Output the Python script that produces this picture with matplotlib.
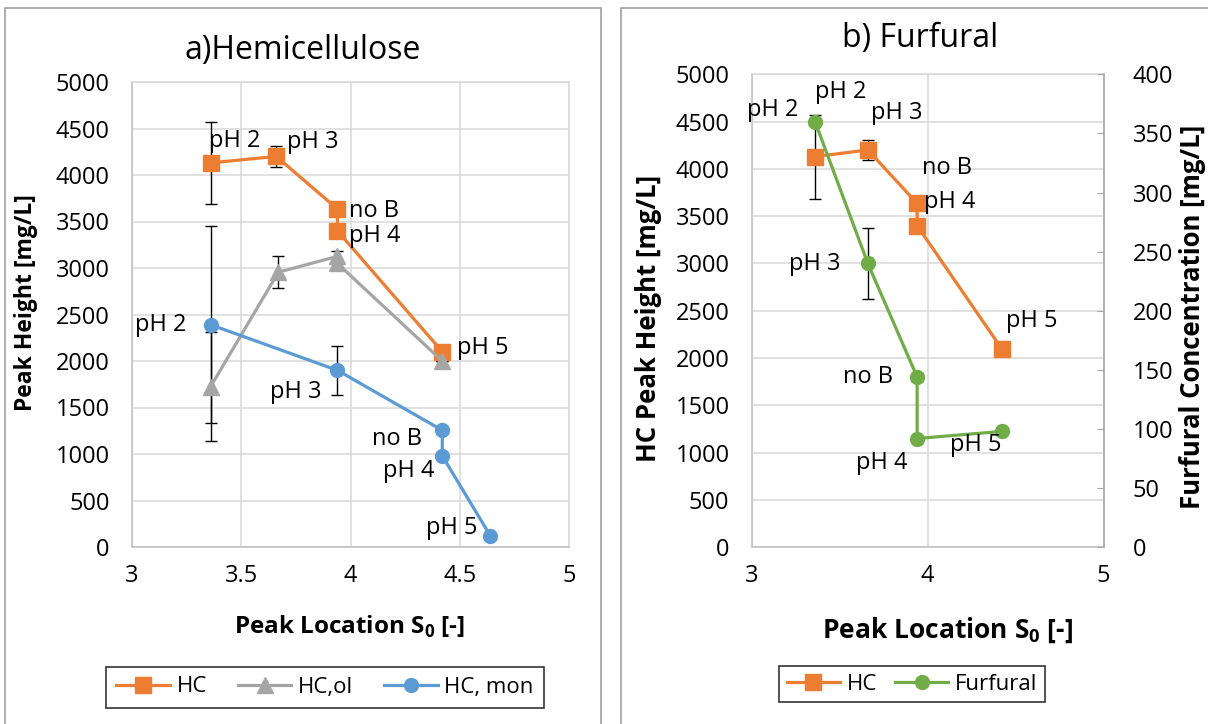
import matplotlib
matplotlib.use("Agg")
import matplotlib.pyplot as plt
from matplotlib.patches import Rectangle

plt.rcParams['font.family'] = ['Open Sans', 'DejaVu Sans']
plt.rcParams['mathtext.fontset'] = 'custom'
plt.rcParams['mathtext.rm'] = 'Open Sans'
plt.rcParams['mathtext.bf'] = 'Open Sans:bold'

# data
labels = ['pH 2', 'pH 3', 'no B', 'pH 4', 'pH 5']

hc_x = [3.36, 3.66, 3.94, 3.94, 4.42]
hc_y = [4130, 4200, 3635, 3400, 2100]
hc_err = [445, 110, 0, 0, 0]

ol_x = [3.36, 3.67, 3.94, 3.94, 4.42]
ol_y = [1725, 2955, 3125, 3050, 2000]
ol_err = [590, 170, 60, 0, 0]

mon_x = [3.36, 3.94, 4.42, 4.42, 4.64]
mon_y = [2390, 1900, 1255, 980, 120]
mon_err = [1060, 265, 0, 0, 0]

fur_x = [3.36, 3.66, 3.94, 3.94, 4.42]
fur_y = [360, 240, 144, 92, 98]
fur_err = [0, 30, 3, 0, 0]

ORANGE = '#ED7D31'
GRAY = '#A5A5A5'
BLUE = '#5B9BD5'
GREEN = '#70AD47'
GRID = '#d9d9d9'

W, H = 1208, 724
fig = plt.figure(figsize=(W / 100, H / 100), dpi=100)


def fx(px):
    return px / W


def fy(py):
    return 1 - py / H


# chart area borders
fig.patches.append(Rectangle((fx(5), fy(740)), fx(596), (740 - 8) / H, transform=fig.transFigure,
                             fill=False, edgecolor='#a0a0a0', linewidth=1.2))
fig.patches.append(Rectangle((fx(621), fy(740)), fx(700), (740 - 8) / H, transform=fig.transFigure,
                             fill=False, edgecolor='#a0a0a0', linewidth=1.2))


def style_axes(ax, xticks):
    ax.set_xlim(3, 5)
    ax.set_ylim(0, 5000)
    ax.set_xticks(xticks)
    ax.set_yticks(range(0, 5001, 500))
    ax.set_xticklabels([('%g' % t) for t in xticks])
    ax.grid(True, color=GRID, linewidth=1.1)
    ax.set_axisbelow(True)
    for s in ['top', 'right']:
        ax.spines[s].set_color(GRID)
        ax.spines[s].set_linewidth(1.1)
    for s in ['left', 'bottom']:
        ax.spines[s].set_color('#bfbfbf')
        ax.spines[s].set_linewidth(1.1)
    ax.tick_params(axis='y', length=0, pad=16, labelsize=17)
    ax.tick_params(axis='x', length=0, pad=12, labelsize=17)


def put_labels(ax, xs, ys, offsets, color='black'):
    for lab, x, y, (dx, dy, ha) in zip(labels, xs, ys, offsets):
        ax.annotate(lab, (x, y), xytext=(dx, dy), textcoords='offset pixels',
                    ha=ha, va='center', fontsize=17, color=color, zorder=10)


# ---------- a) Hemicellulose ----------
ax1 = fig.add_axes([fx(132), fy(547), fx(569 - 132), (547 - 82) / H])
style_axes(ax1, [3, 3.5, 4, 4.5, 5])

ax1.errorbar(hc_x, hc_y, yerr=hc_err, fmt='none', ecolor='black', elinewidth=1, capsize=4, zorder=1)
ax1.errorbar(ol_x, ol_y, yerr=ol_err, fmt='none', ecolor='black', elinewidth=1, capsize=4, zorder=1)
ax1.errorbar(mon_x, mon_y, yerr=mon_err, fmt='none', ecolor='black', elinewidth=1, capsize=4, zorder=1)

l1, = ax1.plot(hc_x, hc_y, color=ORANGE, marker='s', markersize=12, linewidth=2.3, zorder=3)
l2, = ax1.plot(ol_x, ol_y, color=GRAY, marker='^', markersize=12, linewidth=2.3, zorder=4)
l3, = ax1.plot(mon_x, mon_y, color=BLUE, marker='o', markersize=10, linewidth=2.3, zorder=5)

put_labels(ax1, hc_x, hc_y, [(-2, 22, 'left'), (11, 14, 'left'), (12, -2, 'left'),
                             (12, -5, 'left'), (15, 4, 'left')])
put_labels(ax1, mon_x, mon_y, [(-24, 0, 'right'), (-16, -22, 'right'), (-20, -9, 'right'),
                               (-8, -15, 'right'), (-13, 8, 'right')])

fig.text(fx(303), fy(50), 'a)Hemicellulose', ha='center', va='center', fontsize=23)
fig.text(fx(26), fy(303), 'Peak Height [mg/L]', rotation=90, ha='center', va='center',
         fontsize=16.5, fontweight='bold')
fig.text(fx(350), fy(627), r'Peak Location S$_\mathbf{0}$ [-]', ha='center', va='center',
         fontsize=17.5, fontweight='bold')

leg1 = fig.legend([l1, l2, l3], ['HC', 'HC,ol', 'HC, mon'], loc='center',
                  bbox_to_anchor=(fx(325), fy(687)), ncol=3, frameon=True, fancybox=False,
                  edgecolor='black', fontsize=16, handlelength=2.4, columnspacing=1.4,
                  handletextpad=0.3, borderpad=0.45)
leg1.get_frame().set_linewidth(1.2)

# ---------- b) Furfural ----------
ax2 = fig.add_axes([fx(751.7), fy(547.3), fx(1103.7 - 751.7), (547.3 - 74.3) / H])
style_axes(ax2, [3, 4, 5])
ax2.errorbar(hc_x, hc_y, yerr=hc_err, fmt='none', ecolor='black', elinewidth=1, capsize=4, zorder=1)
r1, = ax2.plot(hc_x, hc_y, color=ORANGE, marker='s', markersize=12, linewidth=2.3, zorder=3)
put_labels(ax2, hc_x, hc_y, [(0, 65, 'left'), (3, 37, 'left'), (5, 35, 'left'),
                             (7, 24, 'left'), (4, 28, 'left')])

ax3 = ax2.twinx()
ax3.set_ylim(0, 400)
ax3.set_yticks(range(0, 401, 50))
for s in ['top', 'left', 'bottom']:
    ax3.spines[s].set_visible(False)
ax3.spines['right'].set_color('#a6a6a6')
ax3.spines['right'].set_linewidth(1.1)
ax3.tick_params(axis='y', direction='in', length=5, color='#a6a6a6', pad=21, labelsize=17)
ax3.errorbar(fur_x, fur_y, yerr=fur_err, fmt='none', ecolor='black', elinewidth=1, capsize=4, zorder=1)
r2, = ax3.plot(fur_x, fur_y, color=GREEN, marker='o', markersize=10, linewidth=2.3, zorder=5)
put_labels(ax3, fur_x, fur_y, [(-17, 12, 'right'), (-27, 0, 'right'), (-24, 0, 'right'),
                               (-10, -24, 'right'), (0, -14, 'right')])

fig.text(fx(920), fy(38), 'b) Furfural', ha='center', va='center', fontsize=23)
fig.text(fx(648), fy(318), 'HC Peak Height [mg/L]', rotation=90, ha='center', va='center',
         fontsize=18.5, fontweight='bold')
fig.text(fx(1192), fy(317), 'Furfural Concentration [mg/L]', rotation=90, ha='center',
         va='center', fontsize=18.5, fontweight='bold')
fig.text(fx(948), fy(630), r'Peak Location S$_\mathbf{0}$ [-]', ha='center', va='center',
         fontsize=19, fontweight='bold')

leg2 = fig.legend([r1, r2], ['HC', 'Furfural'], loc='center',
                  bbox_to_anchor=(fx(912), fy(684)), ncol=2, frameon=True, fancybox=False,
                  edgecolor='black', fontsize=16, handlelength=2.4, columnspacing=0.8,
                  handletextpad=0.3, borderpad=0.35)
leg2.get_frame().set_linewidth(1.2)

fig.savefig('out.png', dpi=100)
